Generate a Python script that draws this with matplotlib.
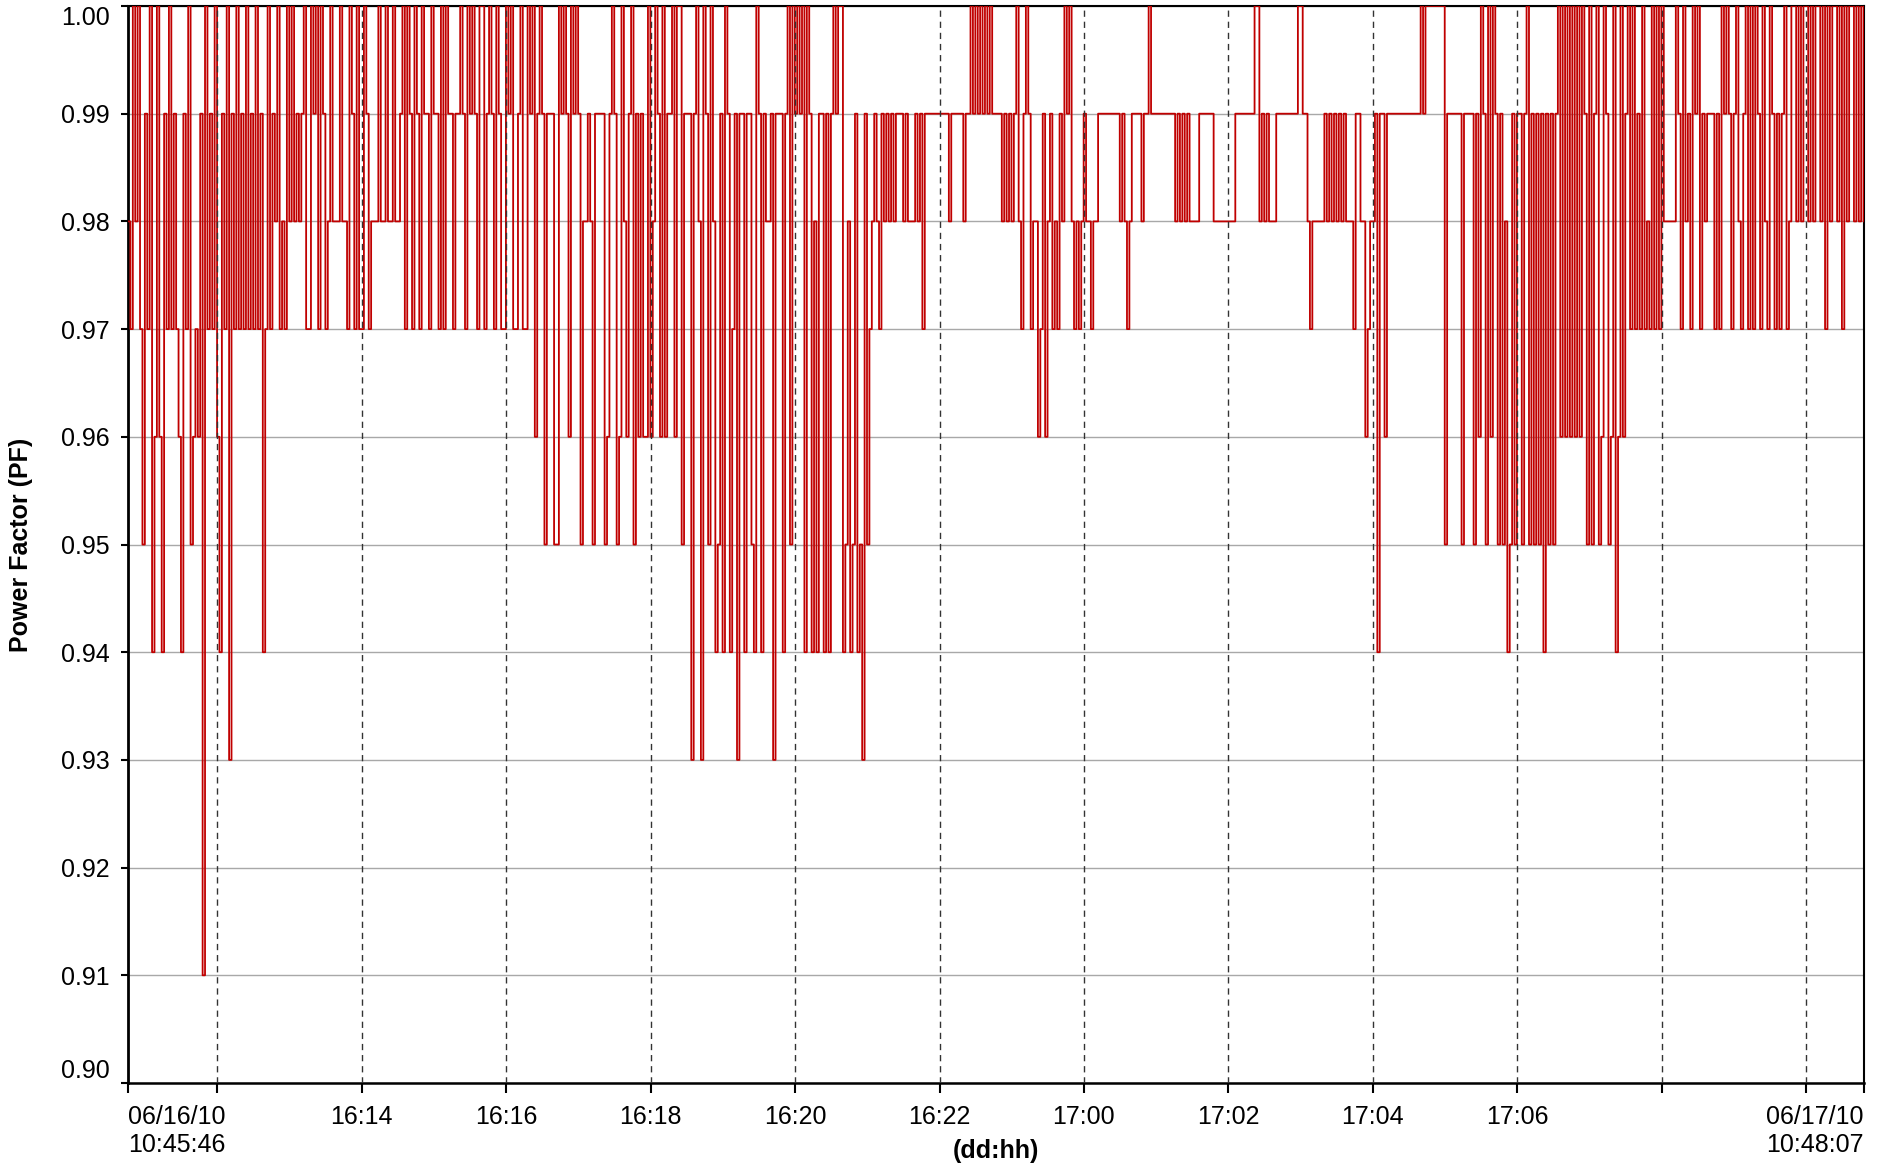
import matplotlib
matplotlib.use('Agg')
import matplotlib.pyplot as plt
import numpy as np
import pandas as pd

plt.rcParams['font.family'] = ['Liberation Sans', 'DejaVu Sans']

# recording window
start = pd.Timestamp('2010-06-16 10:45:46')
end = pd.Timestamp('2010-06-17 10:48:07')
sample_minutes = 2

# power factor, one digit per 2-minute sample,
# digit = hundredths below 1.00 (0 -> 1.00, 3 -> 0.97, 9 -> 0.91)
pf_codes = [
    # 16 10:45 -> 16 13:07
    '2302035130' '6404613031' '3461305434' '1903130461'
    '3071303130' '3130316303' '1203230202' '12',
    # 16 13:09 -> 16 15:37
    '1033010301' '3202220223' '0130330132' '2202202202'
    '2103013013' '0113011303' '0113110130' '10130',
    # 16 15:39 -> 16 18:05
    '0310130133' '0103310330' '1041015111' '5501014010'
    '1522125111' '1541015402' '4105141440' '4201',
    # 16 18:07 -> 16 20:35
    '4041104005' '1117102701' '5026516016' '3171161156'
    '0161221711' '1610501010' '6016261161' '61010',
    # 16 20:37 -> 16 23:05
    '0652651657' '1532123121' '2121112122' '2121311111'
    '1111121111' '1211010101' '0101111212' '12102',
    # 16 23:07 -> 17 01:35
    '3101322431' '4213231201' '0232321223' '2211111111'
    '1212321111' '2110111111' '1111212121' '22221',
    # 17 01:37 -> 17 04:05
    '1111122222' '2222111111' '1100212122' '2111111111'
    '0011232222' '2121212121' '2223112243' '22161',
    # 17 04:07 -> 17 06:33
    '1411111111' '1111110100' '0000005111' '1115111151'
    '4015040151' '5265151151' '0515151615' '1510',
    # 17 06:35 -> 17 09:03
    '4040404040' '1505105401' '5406404103' '0313032303'
    '0302222201' '3021301031' '2111313010' '13102',
    # 17 09:05 -> 17 10:47
    '3103030130' '2301313103' '2002020020' '2002030200'
    '2030200202' '02',
]

# x axis: a tick every 2 hours, only some of them labelled
grid_times = pd.date_range('2010-06-16 12:00', '2010-06-17 10:00', freq='2h')
grid_labels = ['', '16:14', '16:16', '16:18', '16:20', '16:22',
               '17:00', '17:02', '17:04', '17:06', '', '']
start_label = '06/16/10\n10:45:46'
end_label = '06/17/10\n10:48:07'

pf_ticks = [0.90, 0.91, 0.92, 0.93, 0.94, 0.95, 0.96, 0.97, 0.98, 0.99, 1.00]

# build series
codes = ''.join(pf_codes)
pf = 1.0 - np.array([int(c) for c in codes]) / 100.0
dt = start + pd.to_timedelta(np.arange(len(pf)) * sample_minutes, unit='min')
dt = dt.append(pd.DatetimeIndex([end]))
pf = np.append(pf, pf[-1])

fig = plt.figure(figsize=(18.77, 11.65), dpi=100)
ax = fig.add_axes([128 / 1877, 1 - 1083 / 1165, 1736 / 1877, 1077 / 1165])

ax.plot(dt, pf, drawstyle='steps-post', color='#c00000', lw=1.3, zorder=3)

for t in grid_times:
    ax.axvline(t, color='#333333', lw=1.0, ls=(0, (4.5, 3.5)), zorder=4)

ax.set_xlim(start, end)
ax.set_ylim(0.90, 1.00)

ax.set_yticks(pf_ticks)
ax.set_yticklabels([f'{v:.2f}' for v in pf_ticks])
ax.yaxis.grid(True, color='#a8a8a8', lw=1.0)
ax.set_axisbelow(True)

xt = [start] + list(grid_times) + [end]
ax.set_xticks(xt)
ax.set_xticklabels([start_label] + grid_labels + [end_label])

ax.tick_params(axis='both', labelsize=18, colors='black', direction='out')
ax.tick_params(axis='x', length=7, width=1.5, pad=9)
ax.tick_params(axis='y', length=5, width=1.5, pad=8)

xl = ax.get_xticklabels()
xl[0].set_ha('left')
xl[0].set_multialignment('left')
xl[-1].set_ha('right')
xl[-1].set_multialignment('right')

yl = ax.get_yticklabels()
yl[0].set_va('bottom')
yl[-1].set_va('top')

for side, w in [('left', 2.0), ('bottom', 1.8), ('top', 1.5), ('right', 1.5)]:
    ax.spines[side].set_linewidth(w)
    ax.spines[side].set_color('black')

fig.text(21 / 1877, 1 - 545 / 1165, 'Power Factor (PF)', rotation=90,
         fontsize=18, fontweight='bold', ha='center', va='center')
fig.text(996 / 1877, 1 - 1151 / 1165, '(dd:hh)',
         fontsize=18, fontweight='bold', ha='center', va='center')

fig.savefig('out.png', dpi=100)
plt.close()
